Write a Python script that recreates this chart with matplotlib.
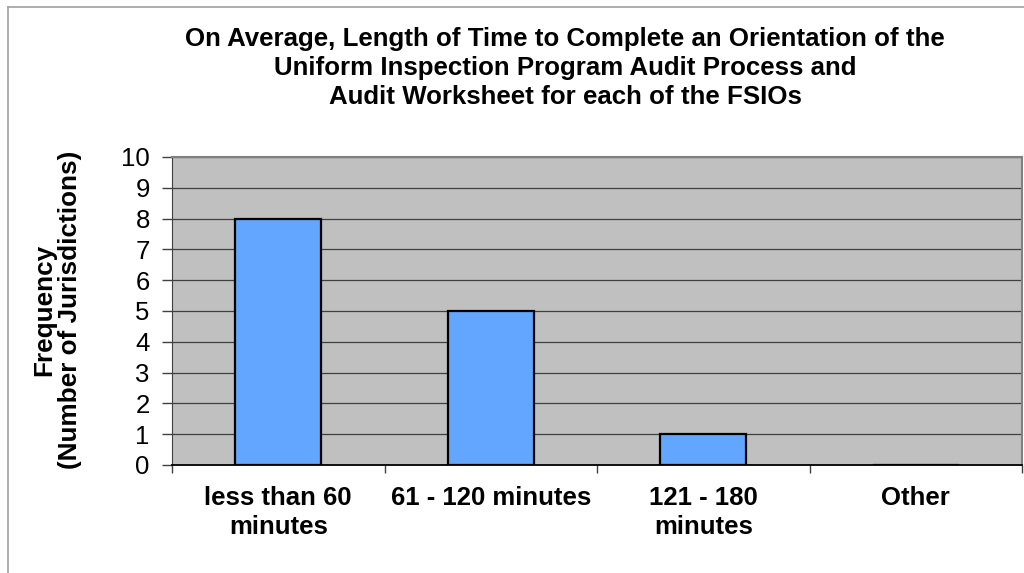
import matplotlib
matplotlib.use("Agg")
import matplotlib.pyplot as plt
from matplotlib.lines import Line2D
from matplotlib.ticker import FixedLocator

plt.rcParams["font.family"] = ["Liberation Sans", "DejaVu Sans"]

categories = ["less than 60\nminutes", "61 - 120 minutes", "121 - 180\nminutes", "Other"]
counts = [8, 5, 1, 0]
yticks = list(range(0, 11))

W, H = 1024, 573
fig = plt.figure(figsize=(W / 100, H / 100), dpi=100)
fig.patch.set_facecolor("white")

# partial chart-area frame (left and top edges only visible)
fig.add_artist(Line2D([8 / W, 8 / W], [0, 1 - 7 / H], transform=fig.transFigure,
                      color="#a0a0a0", lw=1.2))
fig.add_artist(Line2D([8 / W, 1], [1 - 7 / H, 1 - 7 / H], transform=fig.transFigure,
                      color="#a0a0a0", lw=1.2))

ax = fig.add_axes([172 / W, 108 / H, 850 / W, 308 / H])
ax.set_facecolor("#c0c0c0")

pos = list(range(len(categories)))
ax.bar(pos, counts, width=0.405, color="#62a6ff", edgecolor="black", linewidth=1.6, zorder=3)

ax.set_xlim(-0.5, len(categories) - 0.5)
ax.set_ylim(0, 10)
ax.set_yticks(yticks)
ax.yaxis.grid(True, color="#404040", lw=0.9, zorder=1)
ax.set_axisbelow(True)

ax.set_xticks(pos)
ax.set_xticklabels(categories, fontsize=18.5, fontweight="bold", linespacing=1.25)
ax.xaxis.set_minor_locator(FixedLocator([p - 0.5 for p in pos] + [len(pos) - 0.5]))
ax.tick_params(axis="x", which="major", length=0, pad=15)
ax.tick_params(axis="x", which="minor", length=6, width=1, color="#404040", direction="out")
ax.tick_params(axis="y", length=7, width=1, color="#404040", direction="out", labelsize=18.5, pad=9)

for s in ["top", "right"]:
    ax.spines[s].set_color("#808080")
    ax.spines[s].set_linewidth(1.5)
ax.spines["left"].set_color("#404040")
ax.spines["bottom"].set_color("black")
ax.spines["bottom"].set_linewidth(1.3)

fig.text(565 / W, 1 - 68 / H,
         "On Average, Length of Time to Complete an Orientation of the\n"
         "Uniform Inspection Program Audit Process and\n"
         "Audit Worksheet for each of the FSIOs",
         ha="center", va="center", fontsize=18.6, fontweight="bold", linespacing=1.25)

fig.text(57 / W, 1 - 310 / H, "Frequency\n(Number of Jurisdictions)",
         rotation=90, ha="center", va="center", fontsize=18.8, fontweight="bold",
         linespacing=1.1)

fig.savefig("out.png", dpi=100, facecolor="white")
